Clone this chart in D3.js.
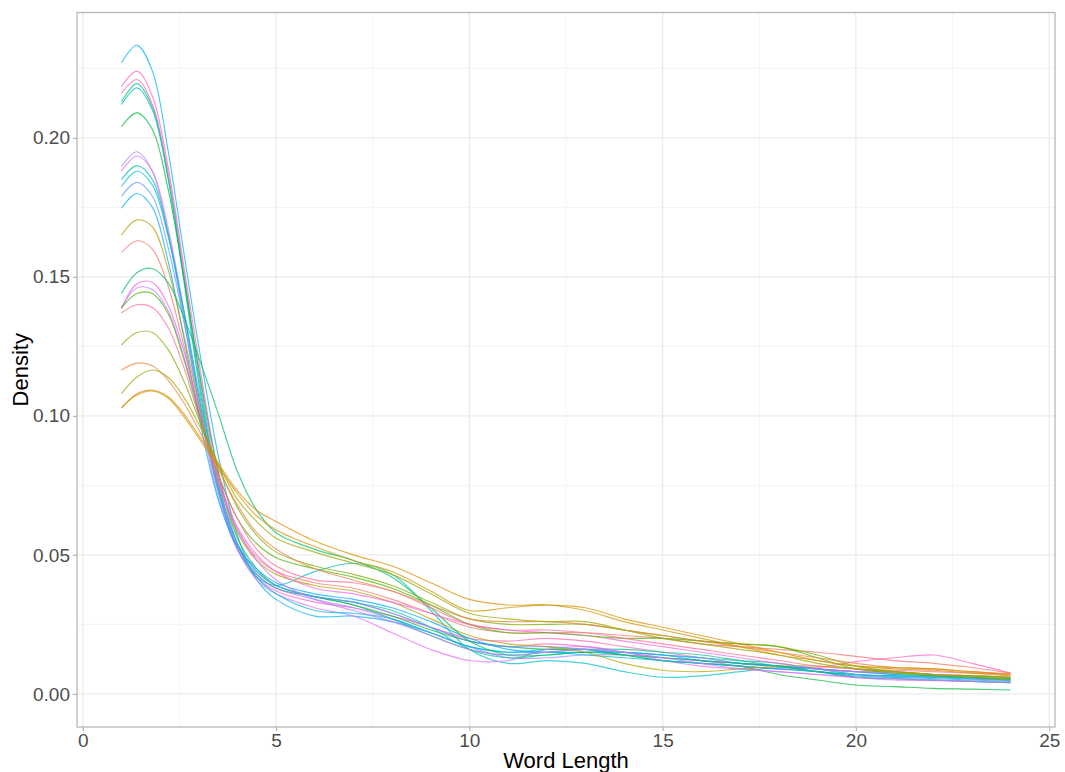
<!DOCTYPE html>
<html>
<head>
<meta charset="utf-8">
<script src="https://cdn.jsdelivr.net/npm/d3@7"></script>
<style>
  html, body { margin: 0; padding: 0; background: #ffffff; }
  svg { display: block; font-family: "Liberation Sans", Arial, sans-serif; }
</style>
</head>
<body>
<svg id="chart" width="1065" height="772"></svg>
<script>
// ---------------- DATA ----------------
const wordLength = [1, 1.4, 1.8, 2.2, 2.6, 3, 3.5, 4, 4.5, 5, 6, 7, 8, 9, 10, 11, 12, 13, 14, 15, 16, 17, 18, 19, 20, 21, 22, 23, 24];
const xTicks = [0, 5, 10, 15, 20, 25];
const yTicks = [0, 0.05, 0.10, 0.15, 0.20];
const yTickLabels = ["0.00", "0.05", "0.10", "0.15", "0.20"];
const seriesNames = ["S01","S02","S03","S04","S05","S06","S07","S08","S09","S10","S11","S12",
                     "S13","S14","S15","S16","S17","S18","S19","S20","S21","S22","S23","S24"];
const seriesHues = [225, 330, 345, 165, 195, 135, 270, 300, 180, 210, 255, 240,
                    75, 15, 150, 315, 285, 120, 360, 105, 30, 90, 45, 60];
const densityValues = [
  [0.227,0.2333,0.224,0.196,0.160,0.125,0.086,0.057,0.041,0.034, 0.028,0.028,0.026,0.022,0.017,0.015,0.016,0.016,0.014,0.012,0.011,0.010,0.009,0.008,0.007,0.006,0.0055,0.005,0.0045],
  [0.2185,0.224,0.215,0.190,0.155,0.120,0.080,0.054,0.042,0.037, 0.033,0.031,0.028,0.024,0.019,0.017,0.018,0.017,0.015,0.013,0.012,0.010,0.009,0.0095,0.0116,0.013,0.014,0.011,0.0075],
  [0.216,0.221,0.212,0.188,0.153,0.116,0.077,0.053,0.043,0.038, 0.035,0.033,0.029,0.024,0.020,0.019,0.020,0.019,0.017,0.015,0.013,0.011,0.010,0.009,0.008,0.008,0.007,0.0065,0.006],
  [0.213,0.2195,0.211,0.186,0.150,0.112,0.074,0.052,0.043,0.038, 0.035,0.032,0.027,0.021,0.016,0.014,0.015,0.016,0.016,0.015,0.014,0.012,0.010,0.008,0.007,0.0065,0.006,0.0055,0.005],
  [0.212,0.218,0.210,0.186,0.151,0.114,0.075,0.052,0.042,0.039, 0.044,0.047,0.043,0.030,0.016,0.011,0.012,0.011,0.008,0.006,0.0065,0.008,0.0095,0.009,0.008,0.007,0.0065,0.006,0.005],
  [0.204,0.209,0.203,0.182,0.151,0.117,0.080,0.056,0.045,0.039, 0.035,0.032,0.028,0.023,0.019,0.017,0.016,0.016,0.014,0.012,0.011,0.010,0.007,0.005,0.0032,0.0026,0.002,0.0017,0.0014],
  [0.1897,0.195,0.188,0.166,0.136,0.104,0.071,0.052,0.043,0.038, 0.034,0.031,0.027,0.022,0.017,0.013,0.013,0.014,0.014,0.013,0.012,0.011,0.010,0.008,0.006,0.0055,0.005,0.0045,0.004],
  [0.188,0.1935,0.188,0.168,0.139,0.107,0.073,0.052,0.041,0.036, 0.031,0.028,0.022,0.016,0.012,0.012,0.016,0.017,0.015,0.012,0.010,0.009,0.008,0.007,0.0058,0.005,0.0048,0.0045,0.004],
  [0.185,0.190,0.185,0.166,0.138,0.107,0.074,0.054,0.044,0.039, 0.035,0.033,0.030,0.024,0.016,0.013,0.014,0.015,0.015,0.014,0.013,0.012,0.011,0.009,0.007,0.0065,0.006,0.0055,0.005],
  [0.1825,0.188,0.183,0.165,0.139,0.109,0.076,0.054,0.042,0.036, 0.030,0.029,0.027,0.022,0.017,0.015,0.015,0.014,0.013,0.012,0.011,0.010,0.009,0.008,0.0065,0.006,0.006,0.0055,0.005],
  [0.179,0.184,0.179,0.161,0.135,0.105,0.073,0.054,0.044,0.039, 0.035,0.033,0.029,0.024,0.019,0.017,0.017,0.016,0.015,0.014,0.013,0.011,0.010,0.009,0.007,0.0065,0.006,0.0055,0.0048],
  [0.1747,0.180,0.175,0.156,0.129,0.100,0.070,0.053,0.045,0.040, 0.036,0.034,0.031,0.026,0.020,0.016,0.015,0.015,0.015,0.014,0.012,0.011,0.010,0.009,0.008,0.007,0.0065,0.006,0.0055],
  [0.165,0.1705,0.168,0.153,0.130,0.104,0.077,0.058,0.048,0.043, 0.039,0.037,0.033,0.027,0.021,0.018,0.017,0.015,0.011,0.0085,0.008,0.009,0.010,0.010,0.009,0.008,0.007,0.006,0.005],
  [0.1587,0.163,0.160,0.147,0.126,0.102,0.076,0.059,0.049,0.044, 0.040,0.038,0.034,0.029,0.024,0.022,0.022,0.022,0.021,0.020,0.018,0.017,0.016,0.015,0.0135,0.012,0.011,0.0095,0.0075],
  [0.144,0.1515,0.153,0.148,0.136,0.121,0.101,0.080,0.066,0.058, 0.052,0.048,0.042,0.031,0.019,0.014,0.014,0.015,0.014,0.013,0.012,0.011,0.010,0.008,0.006,0.0055,0.005,0.0045,0.004],
  [0.1385,0.1475,0.148,0.140,0.124,0.103,0.078,0.060,0.050,0.044, 0.038,0.036,0.033,0.029,0.025,0.023,0.022,0.021,0.019,0.017,0.015,0.013,0.011,0.009,0.008,0.0075,0.007,0.0065,0.006],
  [0.139,0.146,0.1455,0.138,0.122,0.102,0.077,0.059,0.048,0.041, 0.034,0.030,0.026,0.021,0.016,0.014,0.015,0.016,0.015,0.013,0.011,0.009,0.008,0.007,0.006,0.0055,0.005,0.0045,0.0042],
  [0.1388,0.144,0.144,0.137,0.121,0.101,0.079,0.063,0.054,0.049, 0.045,0.042,0.038,0.032,0.025,0.022,0.022,0.021,0.020,0.020,0.019,0.018,0.017,0.013,0.009,0.0075,0.0065,0.006,0.0055],
  [0.137,0.140,0.139,0.132,0.118,0.100,0.079,0.063,0.052,0.046, 0.041,0.040,0.037,0.031,0.025,0.023,0.023,0.022,0.020,0.018,0.016,0.014,0.012,0.010,0.009,0.0085,0.008,0.0075,0.007],
  [0.1255,0.1300,0.130,0.124,0.113,0.099,0.082,0.067,0.057,0.051, 0.046,0.043,0.039,0.033,0.027,0.025,0.025,0.025,0.023,0.021,0.019,0.018,0.017,0.014,0.010,0.008,0.007,0.0065,0.006],
  [0.1165,0.119,0.118,0.113,0.105,0.095,0.081,0.068,0.058,0.052, 0.045,0.041,0.037,0.032,0.027,0.026,0.026,0.025,0.023,0.021,0.019,0.017,0.015,0.013,0.011,0.0095,0.009,0.008,0.0072],
  [0.108,0.114,0.1165,0.114,0.107,0.097,0.083,0.070,0.062,0.056, 0.051,0.047,0.043,0.036,0.029,0.027,0.026,0.026,0.023,0.020,0.018,0.016,0.014,0.011,0.009,0.008,0.007,0.0065,0.006],
  [0.1028,0.108,0.1093,0.107,0.101,0.093,0.083,0.073,0.066,0.062, 0.055,0.050,0.046,0.040,0.034,0.032,0.032,0.031,0.027,0.024,0.021,0.018,0.015,0.012,0.010,0.0095,0.009,0.008,0.007],
  [0.103,0.1075,0.109,0.1065,0.100,0.092,0.082,0.072,0.064,0.059, 0.053,0.048,0.044,0.037,0.030,0.031,0.032,0.030,0.026,0.023,0.020,0.017,0.014,0.012,0.010,0.009,0.0085,0.0075,0.0065]
];

// ---------------- helpers ----------------
// R-style hcl() (polar CIELUV) -> sRGB hex
function hclLuv(h, c, l) {
  const hr = h * Math.PI / 180;
  const U = c * Math.cos(hr), V = c * Math.sin(hr);
  const Xn = 95.047, Yn = 100.0, Zn = 108.883;
  const den = Xn + 15 * Yn + 3 * Zn;
  const un = 4 * Xn / den, vn = 9 * Yn / den;
  const Y = l > 8 ? Yn * Math.pow((l + 16) / 116, 3) : Yn * l / 903.3;
  const up = U / (13 * l) + un, vp = V / (13 * l) + vn;
  const X = 9 * Y * up / (4 * vp);
  const Z = -X / 3 - 5 * Y + 3 * Y / vp;
  const x = X / 100, y = Y / 100, z = Z / 100;
  let r = 3.240479 * x - 1.537150 * y - 0.498535 * z;
  let g = -0.969256 * x + 1.875992 * y + 0.041556 * z;
  let b = 0.055648 * x - 0.204043 * y + 1.057311 * z;
  const gam = v => v <= 0.0031308 ? 12.92 * v : 1.055 * Math.pow(v, 1 / 2.4) - 0.055;
  const cl = v => Math.max(0, Math.min(255, Math.round(gam(v) * 255)));
  return d3.rgb(cl(r), cl(g), cl(b)).formatHex();
}

// ---------------- chart ----------------
const svg = d3.select("#chart");
const W = 1065, H = 772;
const panel = { left: 77, right: 1055, top: 12.5, bottom: 727 };

const x = d3.scaleLinear().domain([-0.15, 25.15]).range([panel.left, panel.right]);
const y = d3.scaleLinear().domain([-0.0119, 0.2451]).range([panel.bottom, panel.top]);

svg.append("rect").attr("width", W).attr("height", H).attr("fill", "#ffffff");

// grid
const grid = svg.append("g");
const xMinor = [2.5, 7.5, 12.5, 17.5, 22.5];
const yMinor = [0.025, 0.075, 0.125, 0.175, 0.225];
grid.selectAll(".xminor").data(xMinor).enter().append("line")
  .attr("x1", d => x(d)).attr("x2", d => x(d)).attr("y1", panel.top).attr("y2", panel.bottom)
  .attr("stroke", "#f4f4f4").attr("stroke-width", 1);
grid.selectAll(".yminor").data(yMinor).enter().append("line")
  .attr("y1", d => y(d)).attr("y2", d => y(d)).attr("x1", panel.left).attr("x2", panel.right)
  .attr("stroke", "#f4f4f4").attr("stroke-width", 1);
grid.selectAll(".xmajor").data(xTicks).enter().append("line")
  .attr("x1", d => x(d)).attr("x2", d => x(d)).attr("y1", panel.top).attr("y2", panel.bottom)
  .attr("stroke", "#ebebeb").attr("stroke-width", 1.2);
grid.selectAll(".ymajor").data(yTicks).enter().append("line")
  .attr("y1", d => y(d)).attr("y2", d => y(d)).attr("x1", panel.left).attr("x2", panel.right)
  .attr("stroke", "#ebebeb").attr("stroke-width", 1.2);

// lines
const line = d3.line()
  .x((d, i) => x(wordLength[i]))
  .y(d => y(d))
  .curve(d3.curveCatmullRom.alpha(0.5));

svg.append("g").selectAll("path").data(densityValues).enter().append("path")
  .attr("d", d => line(d))
  .attr("fill", "none")
  .attr("stroke", (d, i) => hclLuv(seriesHues[i], 100, 65))
  .attr("stroke-opacity", 0.72)
  .attr("stroke-width", 1.15);

// panel border
svg.append("rect")
  .attr("x", panel.left).attr("y", panel.top)
  .attr("width", panel.right - panel.left).attr("height", panel.bottom - panel.top)
  .attr("fill", "none").attr("stroke", "#b3b3b3").attr("stroke-width", 1.2);

// axes
const xAxis = svg.append("g").attr("transform", `translate(0,${panel.bottom})`)
  .call(d3.axisBottom(x).tickValues(xTicks).tickFormat(d3.format("d")).tickSize(4).tickPadding(3));
const yAxis = svg.append("g").attr("transform", `translate(${panel.left},0)`)
  .call(d3.axisLeft(y).tickValues(yTicks).tickFormat((d, i) => yTickLabels[i]).tickSize(4).tickPadding(3));
[xAxis, yAxis].forEach(a => {
  a.select(".domain").remove();
  a.selectAll(".tick line").attr("stroke", "#b3b3b3").attr("stroke-width", 1.2);
  a.selectAll(".tick text").attr("fill", "#4d4d4d").style("font-size", "19px")
    .style("font-family", "'Liberation Sans', Arial, sans-serif");
});

// titles
svg.append("text")
  .attr("x", (panel.left + panel.right) / 2).attr("y", 768)
  .attr("text-anchor", "middle").attr("fill", "#000")
  .style("font-size", "22px").text("Word Length");
svg.append("text")
  .attr("transform", `translate(28,${(panel.top + panel.bottom) / 2}) rotate(-90)`)
  .attr("text-anchor", "middle").attr("fill", "#000")
  .style("font-size", "22px").text("Density");
</script>
</body>
</html>
